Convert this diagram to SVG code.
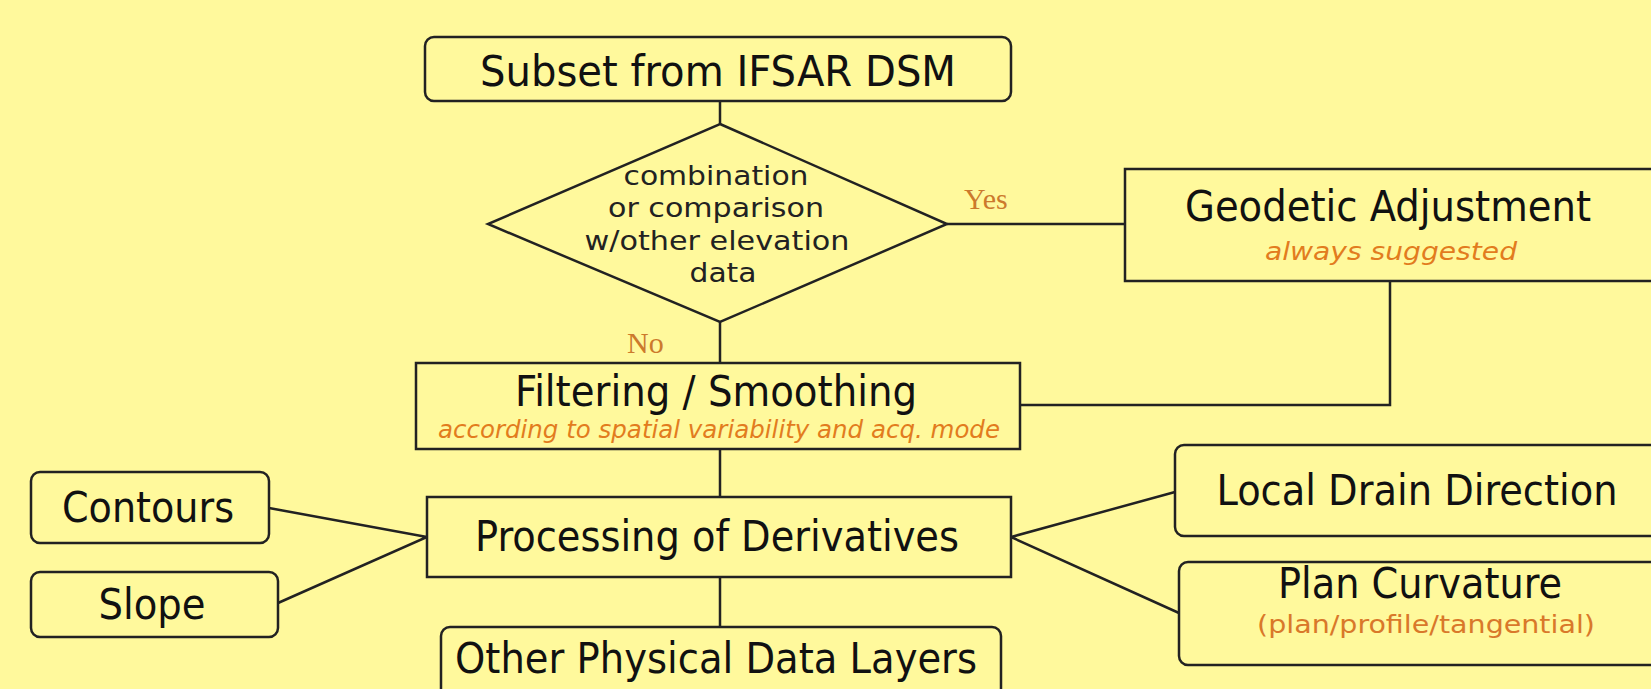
<svg xmlns="http://www.w3.org/2000/svg" width="1651" height="689" viewBox="0 0 1651 689">
<style>
.bg{fill:#FFF99C}
.box{fill:#FFF99C;stroke:#222;stroke-width:2.5}
.ln{fill:none;stroke:#222;stroke-width:2.5}
.t{font-family:'DejaVu Sans Condensed','DejaVu Sans',sans-serif;font-stretch:condensed;font-size:43px;fill:#111;text-anchor:middle}
.d{font-family:'DejaVu Sans ExtraLight','DejaVu Sans',sans-serif;font-size:27px;fill:#222;text-anchor:middle}
.s{font-family:'DejaVu Sans Condensed','DejaVu Sans',sans-serif;font-stretch:condensed;font-style:italic;font-size:24px;fill:#E27C1E;text-anchor:middle}
.p{font-family:'DejaVu Sans Condensed','DejaVu Sans',sans-serif;font-stretch:condensed;font-size:25px;fill:#D9782A;text-anchor:middle}
.yn{font-family:'Liberation Serif',serif;font-size:30px;fill:#CC7A2C}
</style>
<rect class="bg" x="0" y="0" width="1651" height="689"/>
<g id="connectors">
<line class="ln" x1="720" y1="101" x2="720" y2="124"/>
<line class="ln" x1="947" y1="224" x2="1125" y2="224"/>
<line class="ln" x1="720" y1="322" x2="720" y2="363"/>
<polyline class="ln" points="1390,281 1390,405 1020,405"/>
<line class="ln" x1="720" y1="449" x2="720" y2="497"/>
<line class="ln" x1="720" y1="577" x2="720" y2="627"/>
<polyline class="ln" points="269,508 427,537 278,603"/>
<polyline class="ln" points="1175,492 1011,537 1179,613"/>
<text class="yn" x="964" y="209">Yes</text>
<text class="yn" x="627" y="353">No</text>
</g>
<g id="subset">
<rect class="box" x="425" y="37" width="586" height="64" rx="9"/>
<text class="t" x="718" y="86" textLength="476" lengthAdjust="spacingAndGlyphs">Subset from IFSAR DSM</text>
</g>
<g id="decision">
<polygon class="box" points="720,124 947,224 720,322 488,224"/>
<text class="d" x="716" y="185" textLength="185" lengthAdjust="spacingAndGlyphs">combination</text>
<text class="d" x="716" y="217" textLength="216" lengthAdjust="spacingAndGlyphs">or comparison</text>
<text class="d" x="717" y="250" textLength="265" lengthAdjust="spacingAndGlyphs">w/other elevation</text>
<text class="d" x="723" y="282" textLength="67" lengthAdjust="spacingAndGlyphs">data</text>
</g>
<g id="geodetic">
<rect class="box" x="1125" y="169" width="540" height="112"/>
<text class="t" x="1388" y="221" textLength="406" lengthAdjust="spacingAndGlyphs">Geodetic Adjustment</text>
<text class="s" x="1391" y="260" textLength="252" lengthAdjust="spacingAndGlyphs">always suggested</text>
</g>
<g id="filtering">
<rect class="box" x="416" y="363" width="604" height="86"/>
<text class="t" x="716" y="406" textLength="402" lengthAdjust="spacingAndGlyphs">Filtering / Smoothing</text>
<text class="s" x="719" y="438" textLength="562" lengthAdjust="spacingAndGlyphs">according to spatial variability and acq. mode</text>
</g>
<g id="processing">
<rect class="box" x="427" y="497" width="584" height="80"/>
<text class="t" x="717" y="551" textLength="484" lengthAdjust="spacingAndGlyphs">Processing of Derivatives</text>
</g>
<g id="other">
<rect class="box" x="441" y="627" width="560" height="80" rx="9"/>
<text class="t" x="716" y="673" textLength="522" lengthAdjust="spacingAndGlyphs">Other Physical Data Layers</text>
</g>
<g id="contours">
<rect class="box" x="31" y="472" width="238" height="71" rx="9"/>
<text class="t" x="148" y="522" textLength="172" lengthAdjust="spacingAndGlyphs">Contours</text>
</g>
<g id="slope">
<rect class="box" x="31" y="572" width="247" height="65" rx="9"/>
<text class="t" x="152" y="619" textLength="107" lengthAdjust="spacingAndGlyphs">Slope</text>
</g>
<g id="ldd">
<rect class="box" x="1175" y="445" width="490" height="91" rx="9"/>
<text class="t" x="1417" y="505" textLength="401" lengthAdjust="spacingAndGlyphs">Local Drain Direction</text>
</g>
<g id="plan">
<rect class="box" x="1179" y="562" width="486" height="103" rx="9"/>
<text class="t" x="1420" y="598" textLength="284" lengthAdjust="spacingAndGlyphs">Plan Curvature</text>
<text class="p" x="1426" y="633" textLength="338" lengthAdjust="spacingAndGlyphs">(plan/profile/tangential)</text>
</g>
</svg>
